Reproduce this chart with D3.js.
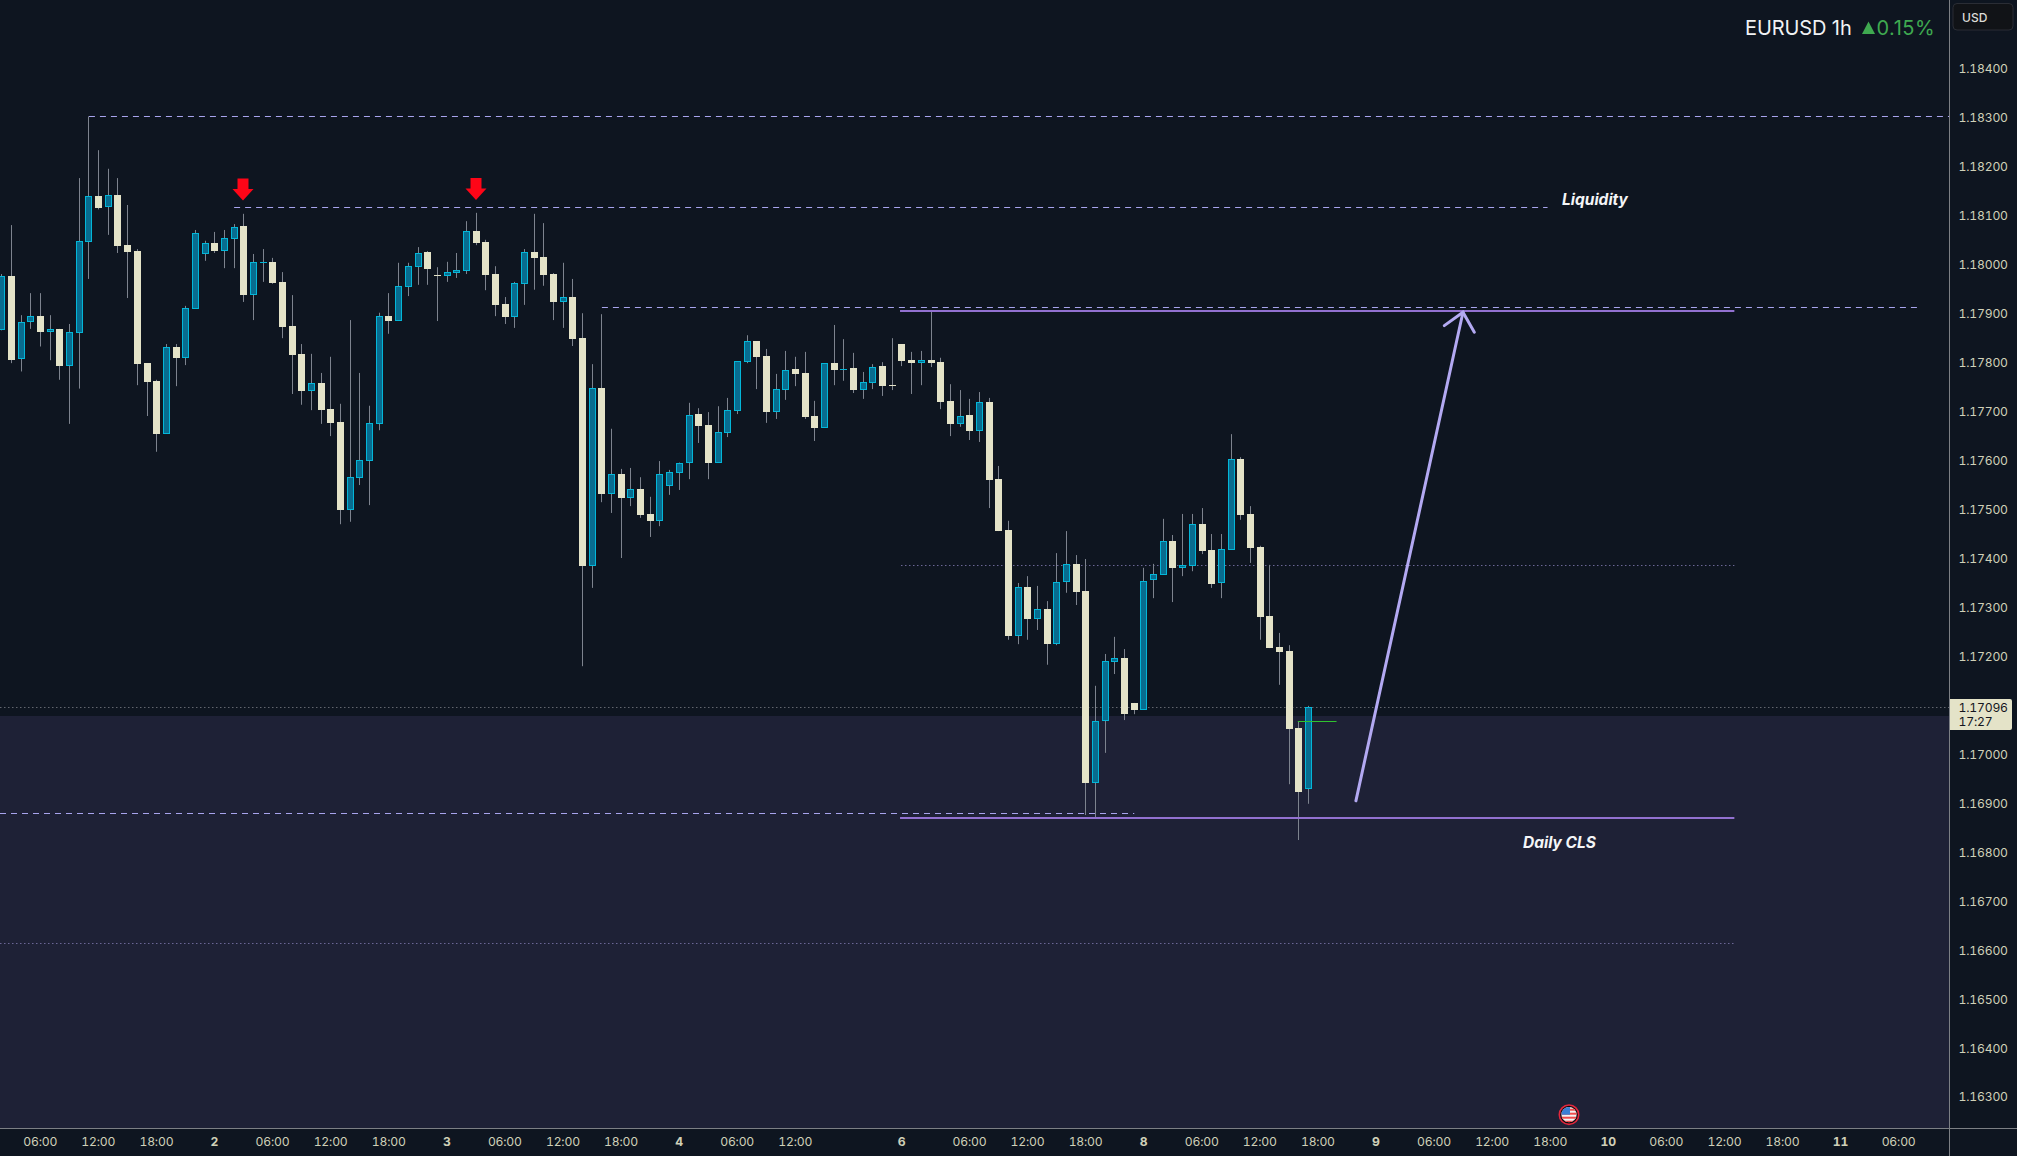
<!DOCTYPE html>
<html>
<head>
<meta charset="utf-8">
<title>EURUSD 1h</title>
<script src="https://cdn.jsdelivr.net/npm/d3@7/dist/d3.min.js"></script>
<style>
html,body{margin:0;padding:0;background:#0e1520;overflow:hidden}
svg{display:block}
text{font-family:Inter,"Noto Sans",sans-serif}
.num text,text.num{font-variant-numeric:tabular-nums}
</style>
</head>
<body>
<svg id="chart" width="2017" height="1156"></svg>
<script>
// Hourly EURUSD candles, prices in 1e-5 units (117096 = 1.17096)
const opens = [
117866,117977,117807,117884,117895,117863,117869,117794,117861,118047,
118140,118117,118142,118040,118028,117799,117763,117655,117832,117810,
117910,118021,118044,118029,118053,118079,117939,118004,118006,117965,
117875,117818,117743,117759,117705,117679,117500,117565,117600,117675,
117895,117886,117955,117996,118026,117979,117978,117984,117988,118069,
118046,117981,117920,117893,117961,118026,118016,117981,117924,117934,
117850,117385,117748,117532,117573,117524,117542,117491,117477,117549,
117575,117596,117695,117673,117596,117657,117702,117802,117844,117814,
117700,117745,117787,117779,117691,117667,117799,117787,117789,117745,
117759,117793,117754,117838,117805,117800,117805,117801,117722,117675,
117693,117661,117720,117562,117458,117242,117342,117277,117297,117226,
117353,117389,117334,116942,117069,117189,117197,117105,117091,117357,
117367,117436,117381,117385,117470,117417,117349,117418,117603,117491,
117424,117283,117219,117211,117054,116929];
const closes = [
117976,117805,117884,117895,117863,117868,117793,117862,118048,118140,
118116,118142,118038,118026,117797,117761,117654,117831,117810,117911,
118064,118044,118028,118054,118078,117938,118005,118006,117963,117873,
117816,117742,117758,117703,117677,117499,117566,117601,117676,117895,
117885,117956,117997,118025,117991,117978,117985,117989,118068,118044,
117979,117918,117893,117963,118026,118014,117979,117924,117934,117848,
117385,117748,117532,117572,117524,117541,117489,117477,117572,117576,
117596,117694,117671,117595,117658,117703,117803,117844,117812,117699,
117746,117786,117777,117689,117667,117799,117785,117788,117744,117760,
117792,117752,117753,117803,117799,117805,117799,117720,117675,117692,
117660,117719,117560,117456,117242,117341,117276,117296,117225,117353,
117388,117332,116941,117069,117190,117196,117082,117091,117355,117368,
117435,117381,117386,117470,117415,117348,117419,117603,117489,117421,
117281,117217,117209,117052,116923,117096];
const highs = [
117981,118081,117897,117942,117942,117897,117869,117879,118177,118303,
118234,118196,118177,118122,118032,117799,117765,117838,117838,117916,
118071,118049,118067,118071,118083,118104,118022,118032,118014,117985,
117938,117838,117818,117779,117812,117716,117887,117779,117712,117902,
117942,118004,118004,118036,118028,117995,118006,118024,118089,118106,
118051,117997,117934,117965,118032,118104,118085,117983,118004,117971,
117901,117797,117899,117665,117583,117585,117566,117526,117599,117581,
117596,117718,117707,117699,117711,117728,117803,117856,117844,117828,
117777,117824,117812,117822,117722,117799,117877,117848,117820,117781,
117797,117801,117850,117838,117822,117824,117905,117810,117756,117744,
117726,117740,117728,117589,117477,117350,117364,117344,117313,117411,
117456,117407,117399,117140,117205,117240,117215,117105,117381,117389,
117481,117448,117491,117491,117503,117450,117450,117654,117607,117507,
117426,117387,117248,117223,117068,117099];
const lows = [
117866,117799,117782,117869,117833,117805,117765,117675,117747,117971,
118113,118061,118024,117932,117754,117691,117618,117655,117752,117795,
117910,118008,118024,117993,117993,117924,117887,117965,117961,117850,
117736,117714,117703,117675,117650,117470,117475,117550,117509,117662,
117859,117886,117936,117959,117959,117885,117965,117973,117981,118040,
117948,117895,117879,117871,117918,117949,117957,117887,117871,117834,
117180,117340,117515,117493,117401,117507,117483,117444,117466,117530,
117540,117562,117636,117562,117596,117648,117695,117799,117746,117677,
117685,117724,117752,117685,117640,117667,117754,117763,117738,117726,
117746,117732,117744,117793,117736,117754,117791,117705,117650,117669,
117642,117638,117503,117456,117234,117225,117234,117254,117183,117223,
117330,117305,116876,116870,117003,117164,117070,117082,117091,117319,
117367,117311,117364,117374,117409,117340,117319,117418,117479,117391,
117234,117217,117142,116939,116825,116899];

// Axis ticks
const priceTicks = [118400,118300,118200,118100,118000,117900,117800,117700,117600,117500,117400,
  117300,117200,117000,116900,116800,116700,116600,116500,116400,116300];
const timeTickBars = [4,10,16,22,28,34,40,46,52,58,64,70,76,82,93,100,106,112,118,124,130,136,142,148,154,160,166,172,178,184,190,196];
const timeTickLabels = ["06:00","12:00","18:00","2","06:00","12:00","18:00","3","06:00","12:00","18:00","4","06:00","12:00","6","06:00","12:00","18:00","8","06:00","12:00","18:00","9","06:00","12:00","18:00","10","06:00","12:00","18:00","11","06:00"];

// Drawn levels: price, first bar, last bar (null runs to the price scale)
const dashedLevels = [[118303,9,null],[118117,24,159.7],[117913,62,197.9],[116880,-1,117]];
const solidLevels = [[117906,92.8,179],[116870,92.8,179]];
const dottedLevels = [[117386,92.9,179],[116613,-1,179]];
const lastPrice = 117096, lastCountdown = "17:27";
const zoneTop = 117078;
const signalLine = [117067,133.9,137.9];
const pathArrow = {from:[139.9,116905], to:[150.96,117903]};
const redArrows = [[25,118131],[49,118132]];

const W = 2017, H = 1156, plotRight = 1949, plotBottom = 1128;
const x = d3.scaleLinear().domain([0,196]).range([1.82,1.82+196*9.679]);
const y = d3.scaleLinear().domain([118400,116300]).range([68.9,1097.06]);
const snap = v => Math.floor(v)+0.5;

const colors = {
  bg:"#0e1520", zone:"#1e2136", axis:"#7c7f84", wick:"#7d838e",
  bearFill:"#e4e3c8", bullFill:"#086c8f", bullEdge:"#03b6d8",
  level:"#a8a4ee", solid:"#9271d0", dot:"#6b6796", lastDot:"#62666f",
  tick:"#cfd0b8", arrow:"#b3a9f2", red:"#fe0517", green:"#2fc22f"
};

const svg = d3.select("#chart");
svg.append("rect").attr("width",W).attr("height",H).attr("fill",colors.bg);

// Zone shading below the broken level
svg.append("rect").attr("x",0).attr("y",Math.round(y(zoneTop)))
  .attr("width",plotRight).attr("height",plotBottom-Math.round(y(zoneTop)))
  .attr("fill",colors.zone);

const lineFrom = (g,[p,a,b],stroke,w,dash) => g.append("line")
  .attr("x1",a<0?0:x(a)).attr("x2",b===null?plotRight:x(b))
  .attr("y1",snap(y(p))).attr("y2",snap(y(p)))
  .attr("stroke",stroke).attr("stroke-width",w)
  .attr("stroke-dasharray",dash||null);

const levels = svg.append("g");
dottedLevels.forEach(l => lineFrom(levels,l,colors.dot,1,"1.5 2.5"));
lineFrom(levels,[lastPrice,-1,null],colors.lastDot,1,"1.5 2.5");
dashedLevels.forEach(l => lineFrom(levels,l,colors.level,1,"6 5"));

// Candles
const bars = d3.range(opens.length).map(i => ({i,o:opens[i],c:closes[i],h:highs[i],l:lows[i]}));
const candles = svg.append("g").selectAll("g").data(bars).join("g");
candles.append("line")
  .attr("x1",d=>snap(x(d.i))).attr("x2",d=>snap(x(d.i)))
  .attr("y1",d=>y(d.h)).attr("y2",d=>y(d.l))
  .attr("stroke",colors.wick).attr("stroke-width",1);
candles.each(function(d){
  const g = d3.select(this), left = Math.floor(x(d.i))-3;
  const top = Math.round(y(Math.max(d.o,d.c))), bot = Math.round(y(Math.min(d.o,d.c)));
  const up = d.c>=d.o, h = bot-top;
  if (h<=1) {
    g.append("rect").attr("x",left).attr("y",top).attr("width",7).attr("height",1)
      .attr("fill",up?colors.bullEdge:colors.bearFill);
  } else if (up) {
    g.append("rect").attr("x",left+0.5).attr("y",top+0.5).attr("width",6).attr("height",Math.max(h-1,1))
      .attr("fill",colors.bullFill).attr("stroke",colors.bullEdge).attr("stroke-width",1);
  } else {
    g.append("rect").attr("x",left).attr("y",top).attr("width",7).attr("height",h)
      .attr("fill",colors.bearFill);
  }
});

// Solid levels sit above the candles
const solids = svg.append("g");
solidLevels.forEach(([p,a,b]) => solids.append("line")
  .attr("x1",x(a)).attr("x2",x(b)).attr("y1",Math.round(y(p))).attr("y2",Math.round(y(p)))
  .attr("stroke",colors.solid).attr("stroke-width",2));
lineFrom(solids,signalLine,colors.green,1);

// Red markers pointing at the swing highs
const marker = d3.line();
redArrows.forEach(([i,p]) => {
  const cx = Math.floor(x(i)), tip = y(p);
  svg.append("path").attr("fill",colors.red).attr("d",marker([
    [cx-5.5,tip-22],[cx+5.5,tip-22],[cx+5.5,tip-11.5],[cx+10.5,tip-11.5],
    [cx,tip],[cx-10.5,tip-11.5],[cx-5.5,tip-11.5]])+"Z");
});

// Projected move
const ax = x(pathArrow.from[0]), ay = y(pathArrow.from[1]);
const bx = x(pathArrow.to[0]), by = y(pathArrow.to[1]);
const ang = Math.atan2(ay-by,ax-bx), armLen = 23, spread = 42*Math.PI/180;
const armEnd = s => [bx+armLen*Math.cos(ang+s),by+armLen*Math.sin(ang+s)];
const arrow = svg.append("g").attr("fill","none").attr("stroke",colors.arrow).attr("stroke-width",3).attr("stroke-linecap","round");
arrow.append("path").attr("d",marker([[ax,ay],[bx,by]]));
arrow.append("path").attr("d",marker([armEnd(spread),[bx,by],armEnd(-spread)]));

// Annotations
const note = (tx,ty,s) => svg.append("text").attr("x",tx).attr("y",ty).text(s)
  .attr("fill","#f4f5f7").attr("font-size",15.5).attr("font-weight",700).attr("font-style","italic");
note(1562,204.5,"Liquidity");
note(1523,847.5,"Daily CLS");

// Panels behind the axis labels
svg.append("rect").attr("x",plotRight).attr("y",0).attr("width",W-plotRight).attr("height",H).attr("fill",colors.bg);
svg.append("rect").attr("x",0).attr("y",plotBottom).attr("width",W).attr("height",H-plotBottom).attr("fill",colors.bg);

// Price axis
const axisFont = 12.2, axisSpacing = "-0.2";
const priceAxis = d3.axisRight(y).tickValues(priceTicks).tickSize(0).tickPadding(0)
  .tickFormat(d => (d/1e5).toFixed(5));
const pg = svg.append("g").attr("class","num").attr("transform",`translate(${plotRight+9.5},0)`).call(priceAxis);
pg.select(".domain").remove();
pg.selectAll("text").attr("fill",colors.tick).attr("font-size",axisFont).attr("letter-spacing",axisSpacing);

// Time axis
const timeAxis = d3.axisBottom(x).tickValues(timeTickBars).tickSize(0).tickPadding(0)
  .tickFormat((d,i) => timeTickLabels[i]);
const tg = svg.append("g").attr("class","num").attr("transform",`translate(-0.8,${plotBottom+9.5})`).call(timeAxis);
tg.select(".domain").remove();
tg.selectAll("text").attr("fill",colors.tick).attr("font-size",axisFont).attr("letter-spacing",axisSpacing)
  .attr("font-weight",function(){return this.textContent.includes(":")?400:700;});

svg.append("line").attr("x1",0).attr("x2",W).attr("y1",plotBottom+0.5).attr("y2",plotBottom+0.5)
  .attr("stroke",colors.axis);
svg.append("line").attr("x1",plotRight+0.5).attr("x2",plotRight+0.5).attr("y1",0).attr("y2",H)
  .attr("stroke",colors.axis);

// Last price tag
const tagTop = 699, tagH = 31;
svg.append("path").attr("fill",colors.bearFill)
  .attr("d",`M${plotRight+1},${tagTop}H2010a2,2 0 0 1 2,2V${tagTop+tagH-2}a2,2 0 0 1 -2,2H${plotRight+1}Z`);
svg.append("text").attr("class","num").attr("x",plotRight+9.5).attr("y",y(lastPrice)).attr("dy","0.36em")
  .attr("fill","#14161e").attr("font-size",axisFont).attr("letter-spacing",axisSpacing).text((lastPrice/1e5).toFixed(5));
svg.append("text").attr("class","num").attr("x",plotRight+9.5).attr("y",721.7).attr("dy","0.36em")
  .attr("fill","#14161e").attr("font-size",axisFont).attr("letter-spacing",axisSpacing).text(lastCountdown);

// Currency button
svg.append("rect").attr("x",1953).attr("y",3.5).attr("width",60).attr("height",26.5).attr("rx",4)
  .attr("fill","#111317").attr("stroke","#2a2d35");
svg.append("text").attr("x",1962).attr("y",17.6).attr("dy","0.36em").attr("fill","#dcdcd8")
  .attr("font-size",12).attr("font-weight",500).text("USD");

// Symbol header
svg.append("text").attr("x",1745).attr("y",35).attr("fill","#f0f2f4").attr("font-size",20).attr("letter-spacing","-0.1").text("EURUSD 1h");
svg.append("path").attr("fill","#3fa950").attr("d",marker([[1862,34],[1875,34],[1868.5,21.5]])+"Z");
svg.append("text").attr("x",1876.5).attr("y",35).attr("fill","#3fa950").attr("font-size",20).attr("letter-spacing","0.5").text("0.15%");

// Economic event flag
const fx = 1569, fy = 1114.7;
const defs = svg.append("defs");
defs.append("clipPath").attr("id","flagClip").append("circle").attr("cx",fx).attr("cy",fy).attr("r",7.6);
svg.append("circle").attr("cx",fx).attr("cy",fy).attr("r",9.7).attr("fill","#0b0b0e").attr("stroke","#e3263c").attr("stroke-width",1.6);
const flag = svg.append("g").attr("clip-path","url(#flagClip)");
flag.append("rect").attr("x",fx-8).attr("y",fy-8).attr("width",16).attr("height",16).attr("fill","#f2f2f2");
d3.range(4).forEach(k => flag.append("rect").attr("x",fx-8).attr("y",fy-6+k*4).attr("width",16).attr("height",2).attr("fill","#ef4a4a"));
flag.append("rect").attr("x",fx-8).attr("y",fy-8).attr("width",9).attr("height",8).attr("fill","#3a7fd5");
</script>
</body>
</html>
